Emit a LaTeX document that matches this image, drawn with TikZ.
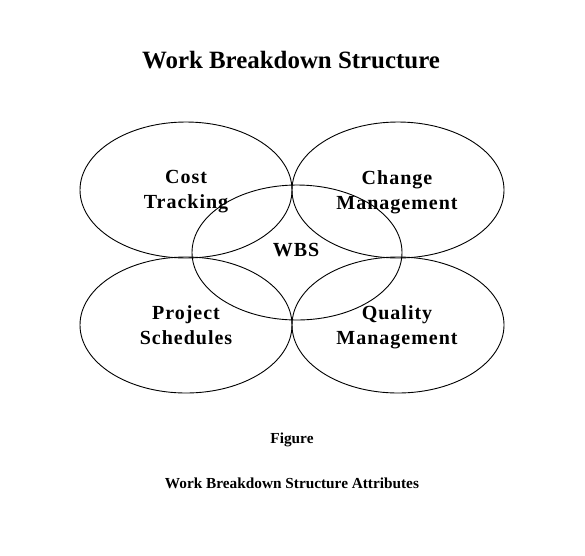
\documentclass[tikz,border=0pt]{standalone}
\usepackage{fontspec}
\setmainfont{Liberation Serif}
\begin{document}
\begin{tikzpicture}[x=1pt,y=-1pt,line width=0.9pt,
    lbl/.style={font=\fontsize{20}{25}\selectfont\bfseries\addfontfeatures{LetterSpace=5},align=center},
    capt/.style={font=\fontsize{15.3}{18}\selectfont\bfseries,anchor=base}]
    \fill[white] (0,0) rectangle (585,555);
    \useasboundingbox (0,0) rectangle (585,555);
    \node[font=\fontsize{24.9}{29}\selectfont\bfseries,anchor=base] (title) at (291,68) {Work Breakdown Structure};
    \foreach \cx/\cy in {186/190,398/190,186/325,398/325}
    {
      \draw (\cx,\cy) ellipse [x radius=106,y radius=68];
    }
    \draw (297,252.5) ellipse [x radius=105,y radius=67.5];
    \node[lbl] (cost) at (186,192) {Cost\\Tracking};
    \node[lbl] (change) at (397,192) {Change\\Management};
    \node[lbl] (wbs) at (296,250) {WBS};
    \node[lbl] (project) at (186,325) {Project\\Schedules};
    \node[lbl] (quality) at (397,327) {Quality\\Management};
    \node[capt] (fig) at (292,443) {Figure};
    \node[capt] (attr) at (292,488) {Work Breakdown Structure Attributes};
  \end{tikzpicture}
\end{document}
